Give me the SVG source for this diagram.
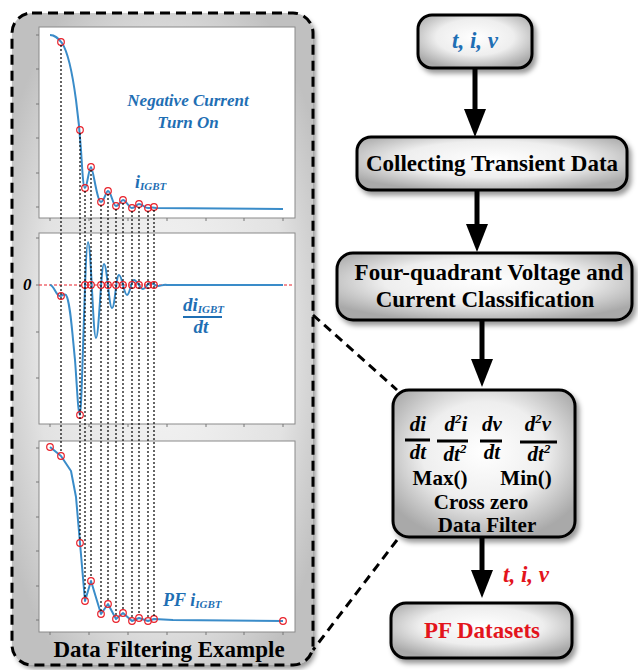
<svg xmlns="http://www.w3.org/2000/svg" width="638" height="670" viewBox="0 0 638 670">
  <defs>
    <radialGradient id="boxFill" cx="50%" cy="42%" r="62%">
      <stop offset="0%" stop-color="#ffffff"/>
      <stop offset="55%" stop-color="#eeeeee"/>
      <stop offset="100%" stop-color="#a9a9a9"/>
    </radialGradient>
    <radialGradient id="panelFill" cx="50%" cy="50%" r="60%">
      <stop offset="0%" stop-color="#f6f6f6"/>
      <stop offset="70%" stop-color="#e2e2e2"/>
      <stop offset="100%" stop-color="#c0c0c0"/>
    </radialGradient>
    <filter id="shadow" x="-10%" y="-10%" width="125%" height="130%">
      <feDropShadow dx="3" dy="4" stdDeviation="2.5" flood-color="#000" flood-opacity="0.4"/>
    </filter>
    <marker id="head" markerUnits="userSpaceOnUse" markerWidth="30" markerHeight="24" refX="8" refY="11" orient="auto">
      <path d="M0,0 L28,11 L0,22 Z" fill="#000"/>
    </marker>
    <style>
      .box { fill: url(#boxFill); stroke: #000; stroke-width: 3; filter: url(#shadow); }
      .lbl { font-family: "Liberation Serif", "Times New Roman", serif; font-weight: bold; font-size: 23px; fill: #000; text-anchor: middle; }
      .sm { font-size: 21px; }
      .it { font-style: italic; }
      .start { text-anchor: start; }
      .blue { fill: #1f6fb4; }
      .red { fill: #e3141c; }
      .frame { fill: #fff; stroke: #8a8a8a; stroke-width: 1; }
      .tick { stroke: #777; stroke-width: 1; }
      .curve { fill: none; stroke: #3a8cc9; stroke-width: 2; stroke-linejoin: round; }
      .mark { fill: none; stroke: #e8202a; stroke-width: 1.2; }
      .guide { stroke: #000; stroke-width: 1.2; stroke-dasharray: 2 2; }
      .zero { stroke: #e8202a; stroke-width: 1.2; stroke-dasharray: 3 2; }
      .flow { stroke: #000; stroke-width: 5; fill: none; marker-end: url(#head); }
      .link { stroke: #000; stroke-width: 3; stroke-dasharray: 9 6; fill: none; }
      .pl { font-family: "Liberation Serif", "Times New Roman", serif; font-weight: bold; font-style: italic; fill: #1f6fb4; }
    </style>
  </defs>

  <!-- filtering example panel -->
  <g id="panel">
    <rect x="12" y="13" width="301" height="652" rx="20" fill="url(#panelFill)" filter="url(#shadow)"/>
    <rect x="12" y="13" width="301" height="652" rx="20" fill="none" stroke="#000" stroke-width="3" stroke-dasharray="10 6"/>
    <text class="lbl" x="169" y="657">Data Filtering Example</text>
  </g>

  <!-- plot 1: measured current -->
  <g id="plot-current">
    <rect class="frame" x="39" y="27" width="256" height="191"/>
    <g class="tick">
      <path d="M36,35H39M36,69H39M36,104H39M36,138H39M36,173H39M36,207H39"/>
      <path d="M50,218V221M89,218V221M128,218V221M167,218V221M206,218V221M244,218V221M283,218V221"/>
    </g>
    <path class="curve" d="M50,35 C55,35 58,38 62,43 C68,52 72,70 76,100 C78,115 80,135 81,150 C82,165 83,188 85,188 C87,188 89,167 91,167 C93,167 97,202 101,202 C104,202 106,191 108,191 C111,191 113,206 116,206 C119,206 121,200 123,200 C126,200 129,208 132,208 C135,208 137,204 139,204 C142,204 145,208 148,208 C151,208 152,207 156,208 L283,209"/>
    <g class="mark">
      <circle cx="61" cy="42" r="3.3"/><circle cx="80" cy="130" r="3.3"/><circle cx="85" cy="188" r="3.3"/>
      <circle cx="91" cy="167" r="3.3"/><circle cx="101" cy="202" r="3.3"/><circle cx="108" cy="191" r="3.3"/>
      <circle cx="116" cy="206" r="3.3"/><circle cx="123" cy="200" r="3.3"/><circle cx="132" cy="208" r="3.3"/>
      <circle cx="139" cy="204" r="3.3"/><circle cx="148" cy="208" r="3.3"/><circle cx="154" cy="207" r="3.3"/>
    </g>
    <text class="pl" x="188" y="106" font-size="17" text-anchor="middle">Negative Current</text>
    <text class="pl" x="188" y="128" font-size="17" text-anchor="middle">Turn On</text>
    <text class="pl" x="135" y="188" font-size="18">i<tspan font-size="11" dy="2">IGBT</tspan></text>
  </g>

  <!-- plot 2: current derivative -->
  <g id="plot-derivative">
    <rect class="frame" x="39" y="233" width="256" height="191"/>
    <g class="tick">
      <path d="M36,238H39M36,285H39M36,332H39M36,378H39"/>
      <path d="M50,424V427M89,424V427M128,424V427M167,424V427M206,424V427M244,424V427M283,424V427"/>
    </g>
    <line class="zero" x1="39" y1="285" x2="294" y2="285"/>
    <path class="curve" d="M50,285 C54,285 56,296 60,296 C63,296 64,293 66,295 C70,300 72,330 75,360 C77,385 78,415 80,415 C82,415 85,242 88,242 C91,242 93,338 96,338 C99,338 101,264 104,264 C107,264 109,308 112,308 C115,308 116,275 119,275 C122,275 124,295 127,295 C130,295 131,280 134,280 C137,280 140,289 143,289 C146,289 147,283 150,283 C153,283 155,286 158,286 C161,286 164,284 167,285 L283,285"/>
    <g class="mark">
      <circle cx="61" cy="296" r="3.3"/><circle cx="80" cy="415" r="3.3"/>
      <circle cx="85" cy="285" r="3.3"/><circle cx="91" cy="285" r="3.3"/><circle cx="101" cy="285" r="3.3"/>
      <circle cx="108" cy="285" r="3.3"/><circle cx="116" cy="285" r="3.3"/><circle cx="123" cy="285" r="3.3"/>
      <circle cx="132" cy="285" r="3.3"/><circle cx="139" cy="285" r="3.3"/><circle cx="148" cy="285" r="3.3"/>
      <circle cx="154" cy="285" r="3.3"/>
    </g>
    <text class="pl" x="23" y="290" font-size="17" style="fill:#000">0</text>
    <text class="pl" x="183" y="311" font-size="19">di<tspan font-size="11" dy="2">IGBT</tspan></text>
    <line x1="183" y1="317" x2="222" y2="317" stroke="#1f6fb4" stroke-width="2"/>
    <text class="pl" x="201" y="333" font-size="19" text-anchor="middle">dt</text>
  </g>

  <!-- plot 3: filtered current -->
  <g id="plot-filtered">
    <rect class="frame" x="39" y="441" width="256" height="191"/>
    <g class="tick">
      <path d="M36,448H39M36,482H39M36,517H39M36,551H39M36,586H39M36,620H39"/>
      <path d="M50,632V635M89,632V635M128,632V635M167,632V635M206,632V635M244,632V635M283,632V635"/>
    </g>
    <polyline class="curve" points="50,447 61,456 71,471 76,497 80,543 85,601 91,581 101,614 108,604 116,619 123,613 132,621 139,618 148,621 154,619 173,620 283,621"/>
    <g class="mark">
      <circle cx="50" cy="447" r="3.3"/><circle cx="61" cy="456" r="3.3"/><circle cx="80" cy="543" r="3.3"/>
      <circle cx="85" cy="601" r="3.3"/><circle cx="91" cy="581" r="3.3"/><circle cx="101" cy="614" r="3.3"/>
      <circle cx="108" cy="604" r="3.3"/><circle cx="116" cy="619" r="3.3"/><circle cx="123" cy="613" r="3.3"/>
      <circle cx="132" cy="621" r="3.3"/><circle cx="139" cy="618" r="3.3"/><circle cx="148" cy="621" r="3.3"/>
      <circle cx="154" cy="619" r="3.3"/><circle cx="283" cy="621" r="3.3"/>
    </g>
    <text class="pl" x="163" y="606" font-size="18">PF i<tspan font-size="11" dy="2">IGBT</tspan></text>
  </g>

  <!-- dotted guides linking the picked samples across the three plots -->
  <g id="guides" class="guide">
    <line x1="61" y1="45" x2="61" y2="453"/>
    <line x1="80" y1="133" x2="80" y2="540"/>
    <line x1="85" y1="191" x2="85" y2="598"/>
    <line x1="91" y1="170" x2="91" y2="578"/>
    <line x1="101" y1="205" x2="101" y2="611"/>
    <line x1="108" y1="194" x2="108" y2="601"/>
    <line x1="116" y1="209" x2="116" y2="616"/>
    <line x1="123" y1="203" x2="123" y2="610"/>
    <line x1="132" y1="211" x2="132" y2="618"/>
    <line x1="139" y1="207" x2="139" y2="615"/>
    <line x1="148" y1="211" x2="148" y2="618"/>
    <line x1="154" y1="210" x2="154" y2="616"/>
  </g>

  <!-- flow chart -->
  <g id="n-input">
    <rect class="box" x="418" y="15" width="114" height="53" rx="14"/>
    <text class="lbl it blue" x="475" y="48">t, i, v</text>
  </g>
  <g id="n-collect">
    <rect class="box" x="357" y="137" width="270" height="53" rx="14"/>
    <text class="lbl" x="492" y="171">Collecting Transient Data</text>
  </g>
  <g id="n-classify">
    <rect class="box" x="337" y="253" width="295" height="67" rx="16"/>
    <text class="lbl" x="489" y="280">Four-quadrant Voltage and</text>
    <text class="lbl" x="485" y="307">Current Classification</text>
  </g>
  <g id="n-filter">
    <rect class="box" x="393" y="390" width="182" height="147" rx="16"/>
    <g class="lbl it sm">
      <text x="418" y="431">di</text>
      <text x="418" y="459">dt</text>
      <text x="456" y="431">d<tspan font-size="13" dy="-8">2</tspan><tspan dy="8">i</tspan></text>
      <text x="455" y="461">dt<tspan font-size="13" dy="-8">2</tspan></text>
      <text x="492" y="431">dv</text>
      <text x="492" y="459">dt</text>
      <text x="538" y="431">d<tspan font-size="13" dy="-8">2</tspan><tspan dy="8">v</tspan></text>
      <text x="539" y="461">dt<tspan font-size="13" dy="-8">2</tspan></text>
    </g>
    <g stroke="#000" stroke-width="3">
      <line x1="405" y1="440" x2="430" y2="440"/>
      <line x1="437" y1="441" x2="468" y2="441"/>
      <line x1="480" y1="441" x2="502" y2="441"/>
      <line x1="520" y1="442" x2="557" y2="442"/>
    </g>
    <text class="lbl sm" x="440" y="485">Max()</text>
    <text class="lbl sm" x="526" y="485">Min()</text>
    <text class="lbl sm" x="481" y="508.5">Cross zero</text>
    <text class="lbl sm" x="487" y="532">Data Filter</text>
  </g>
  <g id="n-output">
    <rect class="box" x="391" y="603" width="181" height="55" rx="15"/>
    <text class="lbl red" x="482" y="638">PF Datasets</text>
  </g>

  <g id="connectors">
    <path class="flow" d="M475,68 V117"/>
    <path class="flow" d="M477,190 V232"/>
    <path class="flow" d="M482,320 V367"/>
    <path class="flow" d="M482,537 V578"/>
    <text class="lbl it red start" x="503" y="582">t, i, v</text>
    <path class="link" d="M313,315 L397,390"/>
    <path class="link" d="M397,540 L313,650"/>
  </g>
</svg>
